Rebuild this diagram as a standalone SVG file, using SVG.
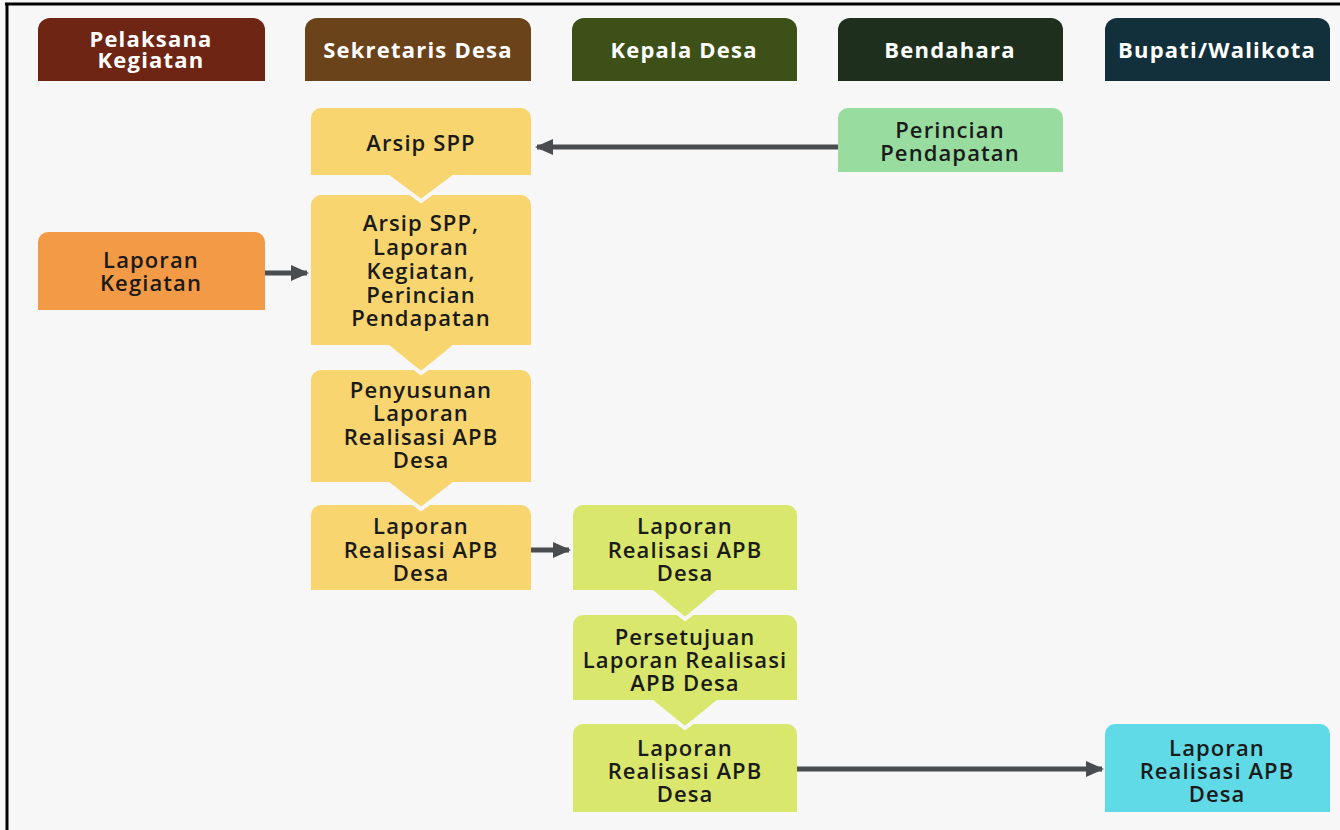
<svg xmlns="http://www.w3.org/2000/svg" width="1340" height="830" viewBox="0 0 1340 830">
<defs>
<style>
.hd{font-family:"Open Sans","Liberation Sans",sans-serif;font-weight:700;font-size:22px;letter-spacing:1.2px;fill:#ffffff;text-anchor:middle}
.tx{font-family:"Open Sans","Liberation Sans",sans-serif;font-weight:600;font-size:22px;letter-spacing:1.1px;fill:#1a1a1a;text-anchor:middle}
.cn{stroke:#4a4d50;stroke-width:5;fill:none}
.gap{stroke:#f7f7f7;stroke-width:4;fill:none}
</style>
<marker id="ah" markerUnits="userSpaceOnUse" markerWidth="20" markerHeight="20" refX="16" refY="10" orient="auto">
<path d="M0,2 L18,10 L0,18 Z" fill="#4a4d50"/>
</marker>
</defs>
<rect x="0" y="0" width="1340" height="830" fill="#f7f7f7"/>
<line x1="5" y1="4" x2="1340" y2="4" stroke="#000" stroke-width="3"/>
<line x1="7" y1="3" x2="7" y2="830" stroke="#000" stroke-width="3"/>

<g id="h1"><path d="M38,81 V30 A12,12 0 0 1 50,18 H253 A12,12 0 0 1 265,30 V81 Z" fill="#6e2514"/><text class="hd" x="151" y="47">Pelaksana</text><text class="hd" x="151" y="68">Kegiatan</text></g>
<g id="h2"><path d="M305,81 V30 A12,12 0 0 1 317,18 H519 A12,12 0 0 1 531,30 V81 Z" fill="#6b431b"/><text class="hd" x="418" y="58">Sekretaris Desa</text></g>
<g id="h3"><path d="M572,81 V30 A12,12 0 0 1 584,18 H785 A12,12 0 0 1 797,30 V81 Z" fill="#3c5018"/><text class="hd" x="684" y="58">Kepala Desa</text></g>
<g id="h4"><path d="M838,81 V30 A12,12 0 0 1 850,18 H1051 A12,12 0 0 1 1063,30 V81 Z" fill="#1e301d"/><text class="hd" x="950" y="58">Bendahara</text></g>
<g id="h5"><path d="M1105,81 V30 A12,12 0 0 1 1117,18 H1318 A12,12 0 0 1 1330,30 V81 Z" fill="#12303b"/><text class="hd" x="1217" y="58">Bupati/Walikota</text></g>

<g id="n1"><path d="M311,175 V118 A10,10 0 0 1 321,108 H521 A10,10 0 0 1 531,118 V175 Z" fill="#f8d56f"/><text class="tx" x="421" y="151">Arsip SPP</text></g>
<g id="n2"><path d="M311,345 V205 A10,10 0 0 1 321,195 H521 A10,10 0 0 1 531,205 V345 Z" fill="#f8d56f"/><text class="tx" x="421" y="231">Arsip SPP,</text><text class="tx" x="421" y="255">Laporan</text><text class="tx" x="421" y="279">Kegiatan,</text><text class="tx" x="421" y="303">Perincian</text><text class="tx" x="421" y="326">Pendapatan</text></g>
<g id="n3"><path d="M311,482 V380 A10,10 0 0 1 321,370 H521 A10,10 0 0 1 531,380 V482 Z" fill="#f8d56f"/><text class="tx" x="421" y="398">Penyusunan</text><text class="tx" x="421" y="421">Laporan</text><text class="tx" x="421" y="445">Realisasi APB</text><text class="tx" x="421" y="468">Desa</text></g>
<g id="n4"><path d="M311,590 V515 A10,10 0 0 1 321,505 H521 A10,10 0 0 1 531,515 V590 Z" fill="#f8d56f"/><text class="tx" x="421" y="534">Laporan</text><text class="tx" x="421" y="558">Realisasi APB</text><text class="tx" x="421" y="581">Desa</text></g>
<g id="n5"><path d="M573,590 V515 A10,10 0 0 1 583,505 H787 A10,10 0 0 1 797,515 V590 Z" fill="#d9e76c"/><text class="tx" x="685" y="534">Laporan</text><text class="tx" x="685" y="558">Realisasi APB</text><text class="tx" x="685" y="581">Desa</text></g>
<g id="n6"><path d="M573,700 V625 A10,10 0 0 1 583,615 H787 A10,10 0 0 1 797,625 V700 Z" fill="#d9e76c"/><text class="tx" x="685" y="645">Persetujuan</text><text class="tx" x="685" y="668">Laporan Realisasi</text><text class="tx" x="685" y="691">APB Desa</text></g>
<g id="n7"><path d="M573,812 V734 A10,10 0 0 1 583,724 H787 A10,10 0 0 1 797,734 V812 Z" fill="#d9e76c"/><text class="tx" x="685" y="756">Laporan</text><text class="tx" x="685" y="779">Realisasi APB</text><text class="tx" x="685" y="802">Desa</text></g>
<g id="n8"><path d="M838,172 V118 A10,10 0 0 1 848,108 H1053 A10,10 0 0 1 1063,118 V172 Z" fill="#98dca0"/><text class="tx" x="950" y="138">Perincian</text><text class="tx" x="950" y="161">Pendapatan</text></g>
<g id="n9"><path d="M1105,812 V734 A10,10 0 0 1 1115,724 H1320 A10,10 0 0 1 1330,734 V812 Z" fill="#60dae6"/><text class="tx" x="1217" y="756">Laporan</text><text class="tx" x="1217" y="779">Realisasi APB</text><text class="tx" x="1217" y="802">Desa</text></g>
<g id="n10"><path d="M38,310 V242 A10,10 0 0 1 48,232 H255 A10,10 0 0 1 265,242 V310 Z" fill="#f39a46"/><text class="tx" x="151" y="268">Laporan</text><text class="tx" x="151" y="291">Kegiatan</text></g>

<g id="connectors">
<polygon points="388,174 454,174 421,199" fill="#f8d56f"/>
<polyline class="gap" points="388,177 421,201 454,177"/>
<polygon points="388,344 454,344 421,371" fill="#f8d56f"/>
<polyline class="gap" points="386,347 421,373 456,347"/>
<polygon points="388,481 454,481 421,507" fill="#f8d56f"/>
<polyline class="gap" points="386,484 421,509 456,484"/>
<polygon points="652,589 718,589 685,617" fill="#d9e76c"/>
<polyline class="gap" points="650,592 685,619 720,592"/>
<polygon points="652,699 718,699 685,726" fill="#d9e76c"/>
<polyline class="gap" points="650,702 685,728 720,702"/>
<line class="cn" x1="838" y1="147" x2="537" y2="147" marker-end="url(#ah)"/>
<line class="cn" x1="265" y1="273" x2="307" y2="273" marker-end="url(#ah)"/>
<line class="cn" x1="531" y1="550" x2="569" y2="550" marker-end="url(#ah)"/>
<line class="cn" x1="797" y1="769" x2="1102" y2="769" marker-end="url(#ah)"/>
</g>
</svg>
